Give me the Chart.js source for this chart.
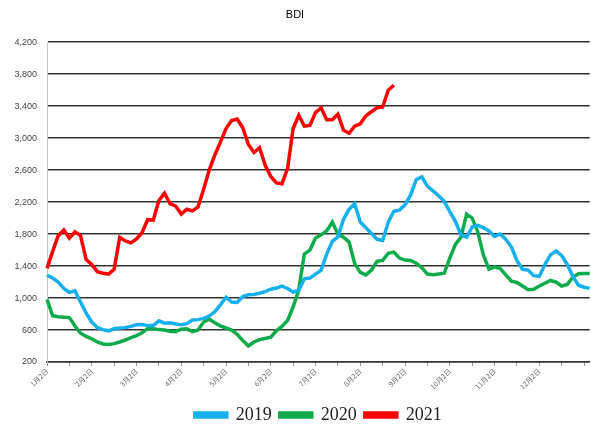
<!DOCTYPE html>
<html>
<head>
<meta charset="utf-8">
<script src="https://cdn.jsdelivr.net/npm/chart.js@4/dist/chart.umd.min.js"></script>
<style>
  html, body { margin: 0; padding: 0; background: #fff; }
  #wrap { width: 591px; height: 425px; }
</style>
</head>
<body>
<div id="wrap"><canvas id="chart-area"></canvas></div>
<script>
// month tick labels (one every 8 points, ~4 points per half month)
var monthLabels = ['1月2日', '2月2日', '3月2日', '4月2日', '5月2日', '6月2日',
                   '7月2日', '8月2日', '9月2日', '10月2日', '11月2日', '12月2日'];

var bdi2019 = [1287, 1250, 1200, 1120, 1070, 1090, 950, 810, 700, 630,
               605, 590, 615, 625, 630, 645, 665, 670, 655, 655,
               715, 685, 690, 675, 665, 680, 725, 730, 745, 775,
               830, 915, 1010, 950, 945, 1020, 1040, 1045, 1060, 1080,
               1110, 1125, 1150, 1120, 1075, 1095, 1240, 1250, 1300, 1350,
               1550, 1710, 1765, 1985, 2110, 2180, 1950, 1880, 1808, 1735,
               1720, 1950, 2085, 2100, 2165, 2290, 2480, 2517, 2400, 2340,
               2280, 2210, 2080, 1960, 1790, 1760, 1890, 1910, 1880, 1840,
               1770, 1800, 1735, 1640, 1470, 1360, 1350, 1280, 1270, 1420,
               1540, 1590, 1530, 1420, 1270, 1160, 1135, 1121];

var bdi2020 = [984, 780, 765, 760, 755, 650, 560, 520, 490, 450,
               425, 420, 430, 450, 475, 505, 530, 565, 620, 615,
               605, 600, 585, 580, 610, 615, 580, 600, 700, 735,
               690, 650, 625, 600, 545, 470, 400, 450, 480, 495,
               510, 590, 645, 720, 890, 1100, 1550, 1600, 1750, 1790,
               1840, 1950, 1800, 1760, 1700, 1430, 1320, 1290, 1350, 1460,
               1470, 1560, 1575, 1500, 1475, 1470, 1435, 1380, 1300, 1290,
               1300, 1310, 1500, 1670, 1760, 2050, 2000, 1830, 1540, 1360,
               1390, 1370, 1290, 1210, 1195, 1150, 1105, 1110, 1150, 1185,
               1220, 1200, 1150, 1170, 1260, 1305, 1308, 1308];

var bdi2021 = [1371, 1580, 1780, 1850, 1750, 1829, 1780, 1480, 1420, 1330,
               1310, 1300, 1360, 1760, 1715, 1690, 1740, 1820, 1980, 1975,
               2220, 2310, 2180, 2150, 2050, 2110, 2090, 2140, 2360, 2600,
               2790, 2950, 3120, 3220, 3240, 3130, 2920, 2820, 2880, 2660,
               2520, 2440, 2430, 2620, 3120, 3285, 3150, 3160, 3320, 3380,
               3230, 3230, 3300, 3100, 3060, 3150, 3180, 3280, 3330, 3380,
               3390, 3600, 3662];

var categories = [];
for (var i = 0; i < bdi2019.length; i++) {
    categories.push(i % 8 === 0 && i / 8 < monthLabels.length ? monthLabels[i / 8] : '');
}

var ctx = document.getElementById('chart-area').getContext('2d');
var config = {
    type: 'line',
    data: {
        labels: categories,
        datasets: [{
            label: '2019',
            data: bdi2019,
            borderColor: '#16b0ef',
            backgroundColor: '#16b0ef'
        }, {
            label: '2020',
            data: bdi2020,
            borderColor: '#0eab4a',
            backgroundColor: '#0eab4a'
        }, {
            label: '2021',
            data: bdi2021,
            borderColor: '#fe0000',
            backgroundColor: '#fe0000'
        }]
    },
    options: {
        responsive: true,
        maintainAspectRatio: false,
        animation: false,
        elements: {
            line: { borderWidth: 3.5, tension: 0 },
            point: { radius: 0 }
        },
        // legend sits a little lower than Chart.js would put it
        layout: { padding: { right: 1, bottom: -9 } },
        plugins: {
            title: {
                display: true,
                text: 'BDI',
                color: '#000',
                font: { family: 'Liberation Sans, Arial', size: 11, weight: 'normal' },
                padding: { top: 8, bottom: 21 }
            },
            legend: {
                position: 'bottom',
                fullSize: false,
                labels: {
                    boxWidth: 32,
                    boxHeight: 4,
                    padding: 8,
                    color: '#222',
                    font: { family: 'Liberation Serif, Times New Roman', size: 18 }
                }
            },
            tooltip: { enabled: false }
        },
        scales: {
            x: {
                grid: {
                    drawOnChartArea: false,
                    drawTicks: true,
                    tickLength: 4,
                    tickColor: '#999'
                },
                border: { color: '#333', width: 1.5 },
                ticks: {
                    autoSkip: false,
                    minRotation: 45,
                    maxRotation: 45,
                    padding: 1,
                    color: '#666',
                    font: { family: 'Noto Sans CJK TC', size: 7 },
                    callback: function (value, index) {
                        if (index % 8 === 0 && index / 8 < monthLabels.length) return monthLabels[index / 8];
                        if (index % 4 === 0) return '';
                        return null;
                    }
                },
                afterFit: function (scale) { scale.height = 36; }
            },
            y: {
                min: 200,
                max: 4200,
                grid: {
                    color: '#333',
                    lineWidth: 1.5,
                    drawTicks: false
                },
                border: { color: '#c8c8c8', width: 1 },
                ticks: {
                    stepSize: 400,
                    padding: 10,
                    color: '#444',
                    font: { family: 'Liberation Sans, Arial', size: 9 },
                    callback: function (value) { return value.toLocaleString('en-US'); }
                },
                afterFit: function (scale) { scale.width = 47; }
            }
        }
    }
};
var chart = new Chart(ctx, config);
</script>
</body>
</html>
